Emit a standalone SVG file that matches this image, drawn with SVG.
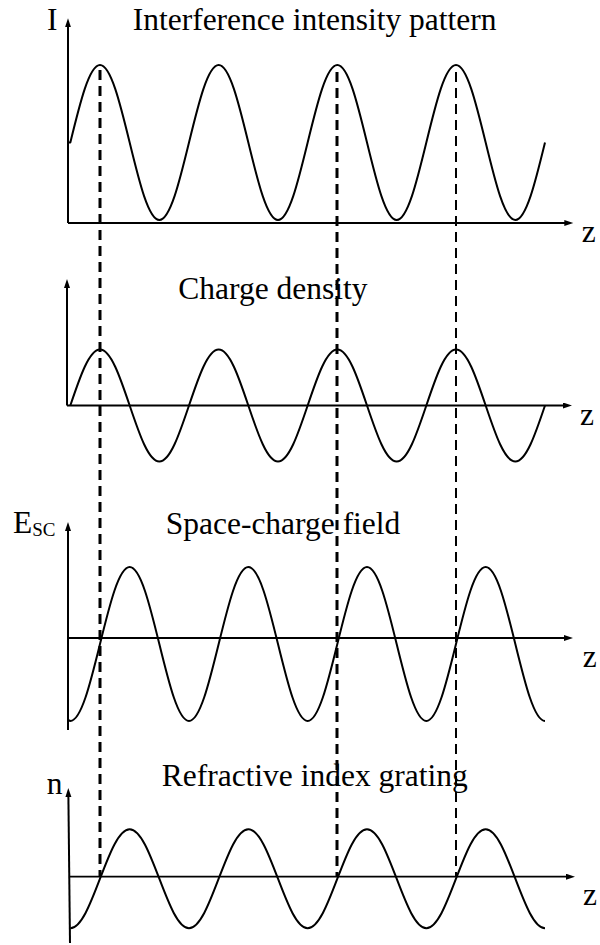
<svg xmlns="http://www.w3.org/2000/svg" width="600" height="945" viewBox="0 0 600 945">
<style>
  text { font-family: "Liberation Serif", "Times New Roman", serif; font-size: 31.5px; fill: #000; }
  .axis { stroke: #000; stroke-width: 2; fill: none; marker-end: url(#arr); }
  .curve { stroke: #000; stroke-width: 2; fill: none; stroke-linejoin: round; }
  .dash { stroke: #000; fill: none; stroke-dasharray: 10 6; }
</style>
<defs>
  <marker id="arr" markerUnits="userSpaceOnUse" markerWidth="10" markerHeight="7" refX="4" refY="3" orient="auto">
    <path d="M0,0 L9,3 L0,6 z" fill="#000"/>
  </marker>
</defs>
<rect width="600" height="945" fill="#fff"/>

<g id="panel-intensity">
  <line class="axis" x1="68" y1="223" x2="68" y2="23.3"/>
  <line class="axis" x1="68" y1="223" x2="568.3" y2="223"/>
  <text x="47" y="30">I</text>
  <text x="132.7" y="30">Interference intensity pattern</text>
  <text x="581.7" y="241.7">z</text>
  <path class="curve" d="M68,142.5 L70.33,142.5
    c 9.674,-39.70 18.93,-77.5 29.667,-77.5 c 10.736,0 19.99,37.80 29.667,77.5 c 9.674,39.70 18.93,77.5 29.667,77.5 c 10.736,0 19.99,-37.80 29.667,-77.5
    c 9.674,-39.70 18.93,-77.5 29.667,-77.5 c 10.736,0 19.99,37.80 29.667,77.5 c 9.674,39.70 18.93,77.5 29.667,77.5 c 10.736,0 19.99,-37.80 29.667,-77.5
    c 9.674,-39.70 18.93,-77.5 29.667,-77.5 c 10.736,0 19.99,37.80 29.667,77.5 c 9.674,39.70 18.93,77.5 29.667,77.5 c 10.736,0 19.99,-37.80 29.667,-77.5
    c 9.674,-39.70 18.93,-77.5 29.667,-77.5 c 10.736,0 19.99,37.80 29.667,77.5 c 9.674,39.70 18.93,77.5 29.667,77.5 c 10.736,0 19.99,-37.80 29.667,-77.5"/>
</g>

<g id="panel-charge">
  <line class="axis" x1="67" y1="405.5" x2="67" y2="284"/>
  <line class="axis" x1="67" y1="405.5" x2="567" y2="405.5"/>
  <text x="178.3" y="299">Charge density</text>
  <text x="580" y="425">z</text>
  <path class="curve" d="M70.33,405.5
    c 9.674,-28.69 18.93,-56 29.667,-56 c 10.736,0 19.99,27.31 29.667,56 c 9.674,28.69 18.93,56 29.667,56 c 10.736,0 19.99,-27.31 29.667,-56
    c 9.674,-28.69 18.93,-56 29.667,-56 c 10.736,0 19.99,27.31 29.667,56 c 9.674,28.69 18.93,56 29.667,56 c 10.736,0 19.99,-27.31 29.667,-56
    c 9.674,-28.69 18.93,-56 29.667,-56 c 10.736,0 19.99,27.31 29.667,56 c 9.674,28.69 18.93,56 29.667,56 c 10.736,0 19.99,-27.31 29.667,-56
    c 9.674,-28.69 18.93,-56 29.667,-56 c 10.736,0 19.99,27.31 29.667,56 c 9.674,28.69 18.93,56 29.667,56 c 10.736,0 19.99,-27.31 29.667,-56"/>
</g>

<g id="panel-field">
  <line class="axis" x1="68" y1="730" x2="68" y2="527"/>
  <line class="axis" x1="68" y1="638" x2="568" y2="638" style="stroke-width:1.8"/>
  <text x="13" y="533">E<tspan font-size="19" dy="2.7">SC</tspan></text>
  <text x="165.7" y="534">Space-charge field</text>
  <text x="582.7" y="666.7">z</text>
  <path class="curve" d="M68,720 L70.33,721
    c 10.736,0 19.99,-37.55 29.667,-77 c 9.674,-39.45 18.93,-77 29.667,-77 c 10.736,0 19.99,37.55 29.667,77 c 9.674,39.45 18.93,77 29.667,77
    c 10.736,0 19.99,-37.55 29.667,-77 c 9.674,-39.45 18.93,-77 29.667,-77 c 10.736,0 19.99,37.55 29.667,77 c 9.674,39.45 18.93,77 29.667,77
    c 10.736,0 19.99,-37.55 29.667,-77 c 9.674,-39.45 18.93,-77 29.667,-77 c 10.736,0 19.99,37.55 29.667,77 c 9.674,39.45 18.93,77 29.667,77
    c 10.736,0 19.99,-37.55 29.667,-77 c 9.674,-39.45 18.93,-77 29.667,-77 c 10.736,0 19.99,37.55 29.667,77 c 9.674,39.45 18.93,77 29.667,77"/>
</g>

<g id="panel-index">
  <line class="axis" x1="70" y1="943" x2="68.35" y2="793"/>
  <line class="axis" x1="70" y1="876.7" x2="570" y2="876.7" style="stroke-width:1.8"/>
  <text x="46.7" y="794.3">n</text>
  <text x="161.7" y="786">Refractive index grating</text>
  <text x="583" y="905">z</text>
  <path class="curve" d="M70.33,928.2
    c 10.736,0 19.99,-24.14 29.667,-49.5 c 9.674,-25.36 18.93,-49.5 29.667,-49.5 c 10.736,0 19.99,24.14 29.667,49.5 c 9.674,25.36 18.93,49.5 29.667,49.5
    c 10.736,0 19.99,-24.14 29.667,-49.5 c 9.674,-25.36 18.93,-49.5 29.667,-49.5 c 10.736,0 19.99,24.14 29.667,49.5 c 9.674,25.36 18.93,49.5 29.667,49.5
    c 10.736,0 19.99,-24.14 29.667,-49.5 c 9.674,-25.36 18.93,-49.5 29.667,-49.5 c 10.736,0 19.99,24.14 29.667,49.5 c 9.674,25.36 18.93,49.5 29.667,49.5
    c 10.736,0 19.99,-24.14 29.667,-49.5 c 9.674,-25.36 18.93,-49.5 29.667,-49.5 c 10.736,0 19.99,24.14 29.667,49.5 c 9.674,25.36 18.93,49.5 29.667,49.5"/>
</g>

<g id="connectors">
  <line class="dash" x1="100" y1="70" x2="100" y2="877" stroke-width="3"/>
  <line class="dash" x1="337" y1="72" x2="337" y2="877" stroke-width="3"/>
  <line class="dash" x1="456" y1="72" x2="456" y2="877" stroke-width="2"/>
</g>
</svg>
